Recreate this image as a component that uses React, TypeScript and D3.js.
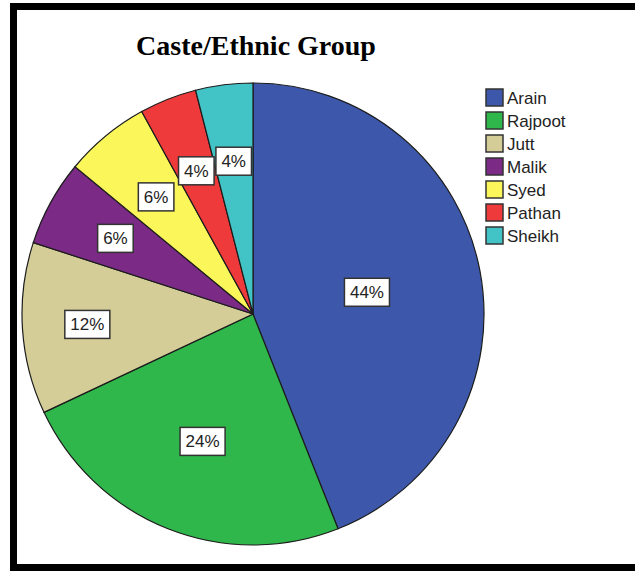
import React from "react";
import * as d3 from "d3";

const categories = ["Arain", "Rajpoot", "Jutt", "Malik", "Syed", "Pathan", "Sheikh"];
const values = [44, 24, 12, 6, 6, 4, 4];
const colors = ["#3d58ab", "#2fb74b", "#d4cd98", "#7b2a85", "#fbf65a", "#ee3a3b", "#42c3c6"];
const title = "Caste/Ethnic Group";

const W = 635;
const H = 571;
const CX = 253;
const CY = 314;
const R = 231;
const labelRadius = [116, 137, 166, 157, 152, 154, 154];

export default function App() {
  const total = d3.sum(values);
  const pie = d3.pie<number>().sort(null).value((d) => d);
  const arcs = pie(values);
  const arcGen = d3.arc<d3.PieArcDatum<number>>().innerRadius(0).outerRadius(R);
  const fmt = (v: number) => `${Math.round((v / total) * 100)}%`;
  const labelFont = 17;
  const charW = (s: string) => {
    let w = 0;
    for (const c of s) w += c === "%" ? 0.889 : 0.556;
    return w * labelFont;
  };
  const legendX = 486;
  const legendY0 = 89;
  const legendStep = 23;
  const sw = 17;

  return (
    <svg
      width={W}
      height={H}
      style={{ position: "absolute", left: 0, top: 0, display: "block" }}
    >
      <rect x={0} y={0} width={W} height={H} fill="#ffffff" />
      <rect x={13.5} y={6.5} width={640} height={561} fill="#ffffff" stroke="#000" strokeWidth={7} />
      <text
        x={256}
        y={55}
        textAnchor="middle"
        fontFamily="'Liberation Serif', 'Times New Roman', serif"
        fontWeight="bold"
        fontSize={28}
        fill="#000"
      >
        {title}
      </text>
      <g transform={`translate(${CX},${CY})`}>
        {arcs.map((a, i) => (
          <path key={categories[i]} d={arcGen(a) || ""} fill={colors[i]} stroke="#1c1c1c" strokeWidth={1.2} />
        ))}
        {arcs.map((a, i) => {
          const mid = (a.startAngle + a.endAngle) / 2;
          const r = labelRadius[i];
          const x = Math.sin(mid) * r;
          const y = -Math.cos(mid) * r;
          const txt = fmt(values[i]);
          const bw = charW(txt) + 11;
          const bh = 28;
          return (
            <g key={"l" + i} transform={`translate(${x},${y})`}>
              <rect x={-bw / 2} y={-bh / 2} width={bw} height={bh} fill="#fff" stroke="#333" strokeWidth={1.5} />
              <text
                x={0}
                y={6}
                textAnchor="middle"
                fontFamily="'Liberation Sans', Arial, sans-serif"
                fontSize={labelFont}
                fill="#222"
              >
                {txt}
              </text>
            </g>
          );
        })}
      </g>
      <g>
        {categories.map((c, i) => {
          const y = legendY0 + i * legendStep;
          return (
            <g key={"lg" + c}>
              <rect x={legendX} y={y} width={sw} height={sw} fill={colors[i]} stroke="#333" strokeWidth={1.5} />
              <text
                x={legendX + sw + 4}
                y={y + sw / 2 + 6}
                fontFamily="'Liberation Sans', Arial, sans-serif"
                fontSize={17}
                fill="#222"
              >
                {c}
              </text>
            </g>
          );
        })}
      </g>
    </svg>
  );
}
